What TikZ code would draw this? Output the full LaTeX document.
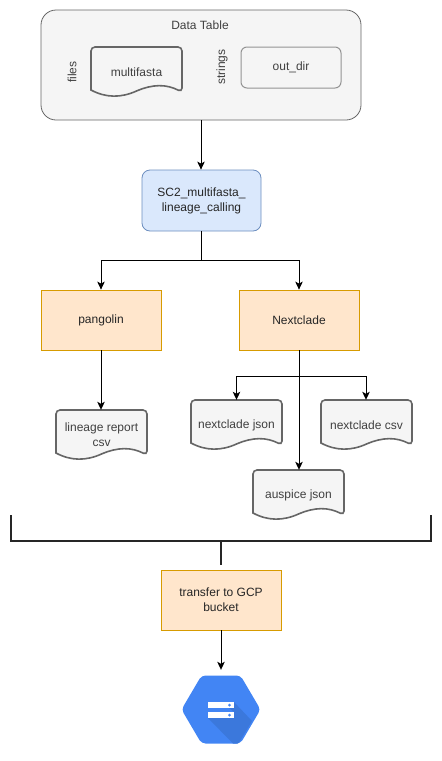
\documentclass[tikz,border=0pt]{standalone}
\usepackage{fontspec}
\setmainfont{Liberation Sans}
\usepackage{xcolor}
\usetikzlibrary{arrows.meta}
\definecolor{greyfill}{HTML}{F5F5F5}
\definecolor{greyline}{HTML}{666666}
\definecolor{greytext}{HTML}{404040}
\definecolor{darktext}{HTML}{262626}
\definecolor{bracketline}{HTML}{262626}
\definecolor{bluefill}{HTML}{DAE8FC}
\definecolor{blueline}{HTML}{6C8EBF}
\definecolor{orangefill}{HTML}{FFE6CC}
\definecolor{orangeline}{HTML}{D79B00}
\definecolor{bucketblue}{HTML}{4285F4}
\definecolor{bucketshade}{HTML}{3B78DC}
\tikzset{
    label/.style={font=\fontsize{12}{15}\selectfont,align=center,inner sep=0pt,text=darktext},
    greylabel/.style={label,text=greytext},
    tablebox/.style={draw=greyline,fill=greyfill,rounded corners=15pt,line width=.8pt},
    stringbox/.style={greylabel,draw=greyline!70,fill=greyfill,rounded corners=6pt,line width=1pt,minimum width=100pt,minimum height=41pt},
    bluebox/.style={label,draw=blueline,fill=bluefill,rounded corners=8pt,line width=.8pt,minimum width=119pt,minimum height=61pt},
    orangebox/.style={label,draw=orangeline,fill=orangefill,line width=.8pt,minimum width=120pt,minimum height=60pt},
    docline/.style={draw=greyline,fill=greyfill,line width=1.6pt},
    docbox/.style={greylabel,minimum width=91pt,minimum height=50pt},
    arrow/.style={draw=black,line width=.9pt,-{Stealth[length=8pt,width=7.5pt,inset=2pt]}},
    link/.style={draw=black,line width=.9pt},
    bracket/.style={draw=bracketline,line width=1.8pt}
}
% document shape, then an empty node over it for the connectors
\newcommand{\docnode}[4]{
    \draw[docline] (#2,#3+43) [rounded corners=4pt] -- (#2,#3) -- (#2+91,#3) -- (#2+91,#3+45) [sharp corners]
        .. controls (#2+75,#3+37) and (#2+62,#3+37) .. (#2+45.5,#3+44)
        .. controls (#2+30,#3+51) and (#2+15,#3+51) .. (#2,#3+43) -- cycle;
    \node[docbox] (#1) at (#2+45.5,#3+25) {#4};
}
\begin{document}
\begin{tikzpicture}[x=1pt,y=-1pt]
    \useasboundingbox (0,0) rectangle (442,761);
    % data table
    \draw[tablebox] (41,10) rectangle (361,120);
    \node[greylabel] (table) at (200,25) {Data Table};
    \node[greylabel,rotate=90] (files) at (72,72) {files};
    \node[greylabel,rotate=90] (strings) at (222,67) {strings};
    \docnode{multifasta}{91}{47}{multifasta}
    \node[stringbox] (outdir) at (291,67.5) {out\_dir};
    \coordinate (tableout) at (201,120);
    % tasks
    \node[bluebox] (calling) at (201.5,200.5) {SC2\_multifasta\_\\lineage\_calling};
    \node[orangebox] (pangolin) at (101,320) {pangolin};
    \node[orangebox] (nextclade) at (299,320) {Nextclade};
    \node[orangebox] (transfer) at (221,600) {transfer to GCP\\bucket};
    % outputs
    \docnode{lineage}{56}{410}{lineage report\\csv}
    \docnode{nextjson}{191}{400}{nextclade json}
    \docnode{nextcsv}{321}{400}{nextclade csv}
    \docnode{auspice}{253}{470}{auspice json}
    % connectors
    \coordinate (split) at (201,260);
    \coordinate (nextsplit) at (299,376);
    \draw[arrow] (tableout) -- (calling.north -| tableout);
    \draw[link] (calling.south -| split) -- (split);
    \draw[arrow] (split) -| (pangolin.north);
    \draw[arrow] (split) -| (nextclade.north);
    \draw[arrow] (pangolin.south) -- (lineage.north -| pangolin.south);
    \draw[link] (nextclade.south) -- (nextsplit);
    \draw[arrow] (nextsplit) -| (nextjson.north);
    \draw[arrow] (nextsplit) -| (nextcsv.north -| 366,0);
    \draw[arrow] (nextsplit) -- (auspice.north -| nextsplit);
    % bracket
    \coordinate (brleft) at (11,515);
    \coordinate (brright) at (431,515);
    \coordinate (brmid) at (221,541);
    \draw[bracket] (brleft) |- (brmid) -| (brright);
    \draw[bracket] (brmid) -- (221,565);
    % bucket
    \node[minimum width=76pt,minimum height=79pt,inner sep=0pt] (bucket) at (221,709.5) {};
    \fill[bucketblue,rounded corners=4pt] (181.5,709.5) -- (201.5,675.5) -- (240.5,675.5) -- (260.5,709.5) -- (240.5,743.5) -- (201.5,743.5) -- cycle;
    \fill[bucketshade] (234,702) -- (234,708) -- (229,708) -- (234,712) -- (234,718) -- (208,718) -- (233,743.5) -- (238,743.5) -- (240,741) -- (252,721) -- cycle;
    \fill[white] (208,702) rectangle (234,708);
    \fill[white] (208,712) rectangle (234,718);
    \fill[bucketblue] (229.5,705) circle (1.5);
    \fill[bucketblue] (229.5,715) circle (1.5);
    \draw[arrow] (transfer.south) -- (bucket.north);
\end{tikzpicture}
\end{document}
